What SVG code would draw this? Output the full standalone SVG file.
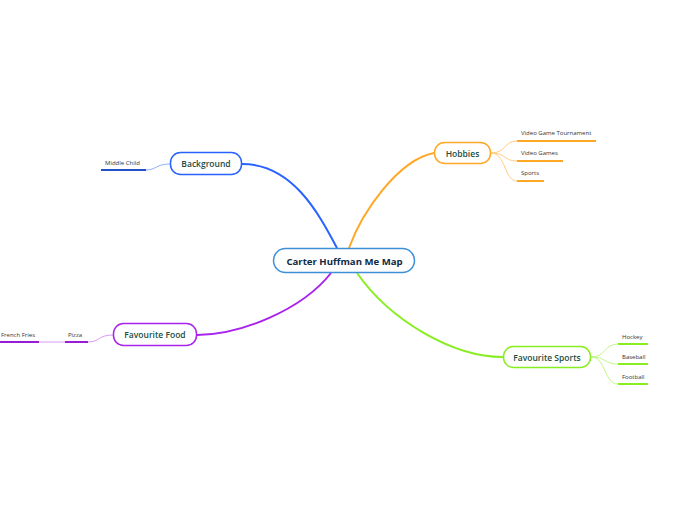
<svg xmlns="http://www.w3.org/2000/svg" width="696" height="520" viewBox="0 0 696 520">
<style>
.node{fill:#fff;stroke-width:1.5}
.t{font-family:"Open Sans","Noto Sans",sans-serif;font-size:8.5px;font-weight:600;fill:#1b4d3e;text-anchor:middle;dominant-baseline:central}
.c{font-family:"Open Sans","Noto Sans",sans-serif;font-size:9.6px;fill:#102a43;font-weight:bold;text-anchor:middle;dominant-baseline:central}
.s{font-family:"Open Sans","Noto Sans",sans-serif;font-size:6px;fill:#333;dominant-baseline:central}
.main{fill:none;stroke-width:2}
.thin{fill:none;stroke-width:1}
.ul{stroke-width:2}
</style>
<rect width="696" height="520" fill="#fff"/>
<g id="connectors">
<path class="main" stroke="#2962ff" d="M242,164 C292,164 318,212 337,248"/>
<path class="main" stroke="#ffa726" d="M434,153 C398,160 362,212 349,248"/>
<path class="main" stroke="#aa22ee" d="M331,273 C302,310 240,335 197,335"/>
<path class="main" stroke="#88ee22" d="M357,273 C390,320 452,357 503,357"/>
<path class="thin" stroke="#8fb0ff" d="M170,164 C156,164 156,170 146,170"/>
<path class="thin" stroke="#ffcc80" d="M491,153 C506,153 504,141 517,141"/>
<path class="thin" stroke="#ffcc80" d="M491,153 C506,153 504,161 517,161"/>
<path class="thin" stroke="#ffcc80" d="M491,153 C506,153 504,181 517,181"/>
<path class="thin" stroke="#d99af5" d="M113,335 C98,335 100,342 88,342"/>
<path class="thin" stroke="#d99af5" d="M65,342 L39,342"/>
<path class="thin" stroke="#c4f58a" d="M591,357 C606,357 604,344 618,344"/>
<path class="thin" stroke="#c4f58a" d="M591,357 C606,357 604,364 618,364"/>
<path class="thin" stroke="#c4f58a" d="M591,357 C606,357 604,384 618,384"/>
</g>
<g id="center">
<rect class="node" x="273.5" y="248.5" width="141" height="24" rx="12" stroke="#3d8fd6"/>
<text class="c" x="344.5" y="261">Carter Huffman Me Map</text>
</g>
<g id="background">
<rect class="node" x="170.5" y="152.5" width="71" height="22" rx="10" stroke="#2962ff"/>
<text class="t" x="206" y="163.5">Background</text>
</g>
<g id="middle-child">
<line class="ul" x1="101" y1="170" x2="146" y2="170" stroke="#2451c8"/>
<text class="s" x="105" y="163">Middle Child</text>
</g>
<g id="hobbies">
<rect class="node" x="434.5" y="142.5" width="56" height="21" rx="10" stroke="#ffa726"/>
<text class="t" x="462.5" y="153">Hobbies</text>
</g>
<g id="vgt">
<line class="ul" x1="517" y1="141" x2="596" y2="141" stroke="#ffa726"/>
<text class="s" x="521" y="133">Video Game Tournament</text>
</g>
<g id="vg">
<line class="ul" x1="517" y1="161" x2="563" y2="161" stroke="#ffa726"/>
<text class="s" x="521" y="153">Video Games</text>
</g>
<g id="sports">
<line class="ul" x1="517" y1="181" x2="544" y2="181" stroke="#ffa726"/>
<text class="s" x="521" y="173">Sports</text>
</g>
<g id="food">
<rect class="node" x="113.5" y="323.5" width="83" height="22" rx="10" stroke="#aa22ee"/>
<text class="t" x="155" y="334.5">Favourite Food</text>
</g>
<g id="pizza">
<line class="ul" x1="65" y1="342" x2="88" y2="342" stroke="#9a1bd6"/>
<text class="s" x="68" y="335">Pizza</text>
</g>
<g id="fries">
<line class="ul" x1="0" y1="342" x2="39" y2="342" stroke="#9a1bd6"/>
<text class="s" x="1" y="335">French Fries</text>
</g>
<g id="fsports">
<rect class="node" x="503.5" y="346.5" width="87" height="21" rx="10" stroke="#88ee22"/>
<text class="t" x="547" y="357">Favourite Sports</text>
</g>
<g id="hockey">
<line class="ul" x1="618" y1="344" x2="648" y2="344" stroke="#88ee22"/>
<text class="s" x="622" y="337">Hockey</text>
</g>
<g id="baseball">
<line class="ul" x1="618" y1="364" x2="648" y2="364" stroke="#88ee22"/>
<text class="s" x="622" y="357">Baseball</text>
</g>
<g id="football">
<line class="ul" x1="618" y1="384" x2="648" y2="384" stroke="#88ee22"/>
<text class="s" x="622" y="377">Football</text>
</g>
</svg>
